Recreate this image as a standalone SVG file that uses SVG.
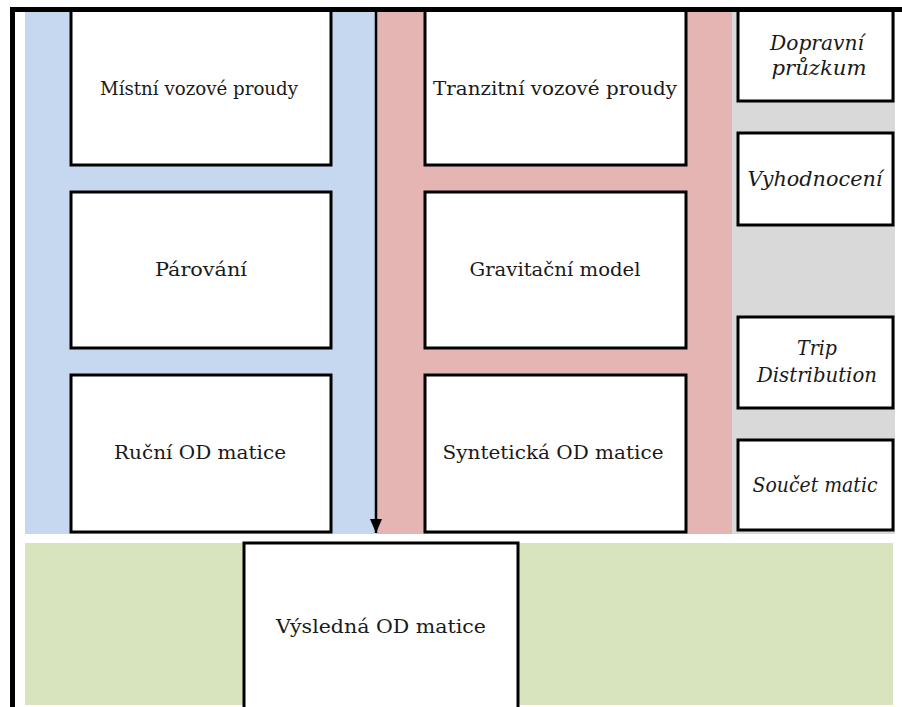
<svg xmlns="http://www.w3.org/2000/svg" width="902" height="707" viewBox="0 0 902 707">
<style>
.box{fill:#ffffff;stroke:#000000;stroke-width:3}
text{font-size:19px;fill:#1a1a1a;text-anchor:middle}
.ti{font-style:italic;font-size:19.5px}
</style>
<defs>
<marker id="ah" viewBox="0 0 14 12" refX="14" refY="6" markerWidth="14" markerHeight="12" markerUnits="userSpaceOnUse" orient="auto">
<path d="M0,0 L14,6 L0,12 Z" fill="#000"/>
</marker>
</defs>
<rect width="902" height="707" fill="#ffffff"/>
<g id="lanes">
<rect x="25" y="10" width="351" height="524" fill="#c6d8ef"/>
<rect x="376" y="10" width="356" height="524" fill="#e5b5b4"/>
<rect x="732" y="10" width="163" height="524" fill="#d9d9d9"/>
<rect x="25" y="543" width="868" height="162" fill="#d8e4bd"/>
</g>
<g font-family="DejaVu Serif, serif">
<g id="n-mistni"><rect class="box" x="71" y="9" width="260" height="156"/><text x="199" y="95" textLength="198" lengthAdjust="spacingAndGlyphs">Místní vozové proudy</text></g>
<g id="n-parovani"><rect class="box" x="71" y="192" width="260" height="156"/><text x="201" y="276" textLength="92" lengthAdjust="spacingAndGlyphs">Párování</text></g>
<g id="n-rucni"><rect class="box" x="71" y="375" width="260" height="157"/><text x="200" y="459" textLength="172" lengthAdjust="spacingAndGlyphs">Ruční OD matice</text></g>
<g id="n-tranzitni"><rect class="box" x="425" y="9" width="261" height="156"/><text x="555" y="95" textLength="244" lengthAdjust="spacingAndGlyphs">Tranzitní vozové proudy</text></g>
<g id="n-gravitacni"><rect class="box" x="425" y="192" width="261" height="156"/><text x="555" y="276" textLength="171" lengthAdjust="spacingAndGlyphs">Gravitační model</text></g>
<g id="n-synteticka"><rect class="box" x="425" y="375" width="261" height="157"/><text x="553" y="459" textLength="221" lengthAdjust="spacingAndGlyphs">Syntetická OD matice</text></g>
<g id="n-dopravni"><rect class="box" x="738" y="9" width="155" height="92"/><text class="ti" x="817" y="50" textLength="94" lengthAdjust="spacingAndGlyphs">Dopravní</text><text class="ti" x="819" y="75" textLength="95" lengthAdjust="spacingAndGlyphs">průzkum</text></g>
<g id="n-vyhodnoceni"><rect class="box" x="738" y="133" width="155" height="92"/><text class="ti" x="815" y="186" textLength="135" lengthAdjust="spacingAndGlyphs">Vyhodnocení</text></g>
<g id="n-trip"><rect class="box" x="738" y="317" width="155" height="91"/><text class="ti" x="817" y="355" textLength="40" lengthAdjust="spacingAndGlyphs">Trip</text><text class="ti" x="817" y="382" textLength="120" lengthAdjust="spacingAndGlyphs">Distribution</text></g>
<g id="n-soucet"><rect class="box" x="738" y="440" width="155" height="90"/><text class="ti" x="815" y="492" textLength="125" lengthAdjust="spacingAndGlyphs">Součet matic</text></g>
<g id="n-vysledna"><rect class="box" x="244" y="543" width="274" height="170"/><text x="381" y="633" textLength="210" lengthAdjust="spacingAndGlyphs">Výsledná OD matice</text></g>
</g>
<g id="frame"><path d="M12.5,707 V9.5 H902" fill="none" stroke="#000" stroke-width="5"/></g>
<g id="connectors">
<line x1="376" y1="11" x2="376" y2="533" stroke="#000" stroke-width="2.5" marker-end="url(#ah)"/>
</g>
</svg>
